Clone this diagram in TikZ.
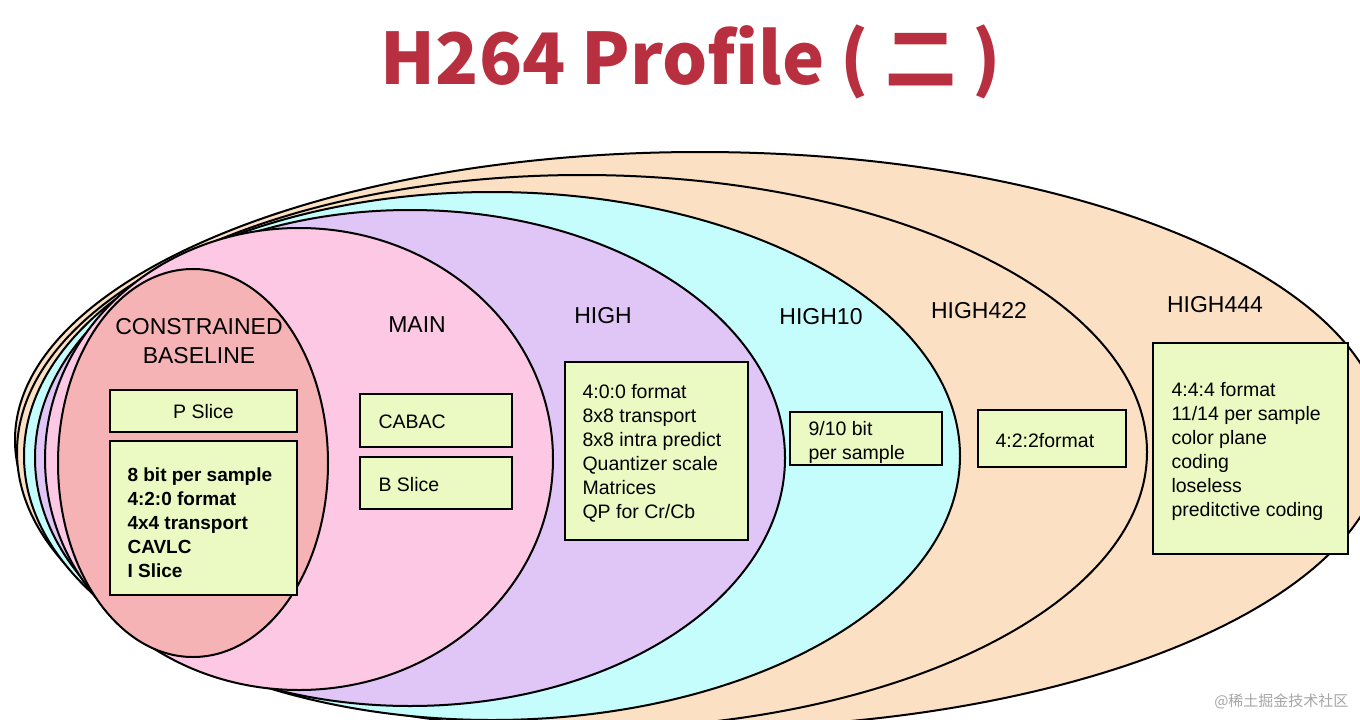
\documentclass[tikz,border=0pt]{standalone}
\usepackage{fontspec}
\setmainfont{Liberation Sans}
\newfontfamily\cjk{Noto Sans CJK SC}
\begin{document}
\begin{tikzpicture}[x=1pt,y=-1pt,
  ell/.style={draw=black,line width=2pt},
  box/.style={draw=black,line width=1.6pt,fill=boxc,inner sep=0pt},
  lab/.style={font=\fontsize{23}{29}\selectfont,align=center},
  txt/.style={font=\fontsize{19.5}{24}\selectfont,align=left,anchor=north west}]
\definecolor{oc}{HTML}{FBE0C3}\definecolor{cy}{HTML}{C5FCFC}
\definecolor{pu}{HTML}{DFC6F6}\definecolor{pk}{HTML}{FCC8E4}
\definecolor{sa}{HTML}{F6B3B5}\definecolor{boxc}{HTML}{EBFAC3}
\definecolor{tr}{HTML}{B8303F}
\useasboundingbox (0,0) rectangle (1360,720);
\clip (0,0) rectangle (1360,720);
\fill[white] (0,0) rectangle (1360,720);
\draw[ell,fill=oc] (700,440) ellipse [x radius=685,y radius=288];
\draw[ell,fill=oc] (582,452) ellipse [x radius=565,y radius=277];
\draw[ell,fill=cy] (492,456) ellipse [x radius=468,y radius=264];
\draw[ell,fill=pu] (410,458) ellipse [x radius=375,y radius=248];
\draw[ell,fill=pk] (299,459) ellipse [x radius=254,y radius=231];
\draw[ell,fill=sa] (193,463) ellipse [x radius=135,y radius=194];
\node[font=\cjk\bfseries\fontsize{71}{80}\selectfont,text=tr] (title) at (691,62) {H264 Profile ( 二 )};
\node[lab] (cb) at (199,341) {CONSTRAINED\\BASELINE};
\node[lab] (main) at (417,325) {MAIN};
\node[lab] (high) at (603,316) {HIGH};
\node[lab] (h10) at (821,317) {HIGH10};
\node[lab] (h422) at (979,311) {HIGH422};
\node[lab] (h444) at (1215,305) {HIGH444};
\draw[box] (110,390) rectangle (297,432);
\node[lab,font=\fontsize{19.5}{22}\selectfont] (ps) at (203.5,412) {P Slice};
\draw[box] (110,441) rectangle (297,595);
\node[txt,font=\bfseries\fontsize{19}{24}\selectfont] (bt) at (124,464) {8 bit per sample\\4:2:0 format\\4x4 transport\\CAVLC\\I Slice};
\draw[box] (360,394) rectangle (512,447);
\node[txt,anchor=west] (cabac) at (375,422) {CABAC};
\draw[box] (360,457) rectangle (512,509);
\node[txt,anchor=west] (bs) at (375,485) {B Slice};
\draw[box] (565,362) rectangle (748,540);
\node[txt] (ht) at (579,381) {4:0:0 format\\8x8 transport\\8x8 intra predict\\Quantizer scale\\Matrices\\QP for Cr/Cb};
\draw[box] (790,412) rectangle (942,465);
\node[txt] (h10t) at (805,418) {9/10 bit\\per sample};
\draw[box] (978,410) rectangle (1126,467);
\node[txt,anchor=west] (f422) at (992,441) {4:2:2format};
\draw[box] (1153,343) rectangle (1348,554);
\node[txt] (t444) at (1168,379) {4:4:4 format\\11/14 per sample\\color plane\\coding\\loseless\\preditctive coding};
\node[font=\cjk\fontsize{15}{18}\selectfont,text=gray!70,anchor=east] (wm) at (1352,701) {@稀土掘金技术社区};
\end{tikzpicture}
\end{document}
